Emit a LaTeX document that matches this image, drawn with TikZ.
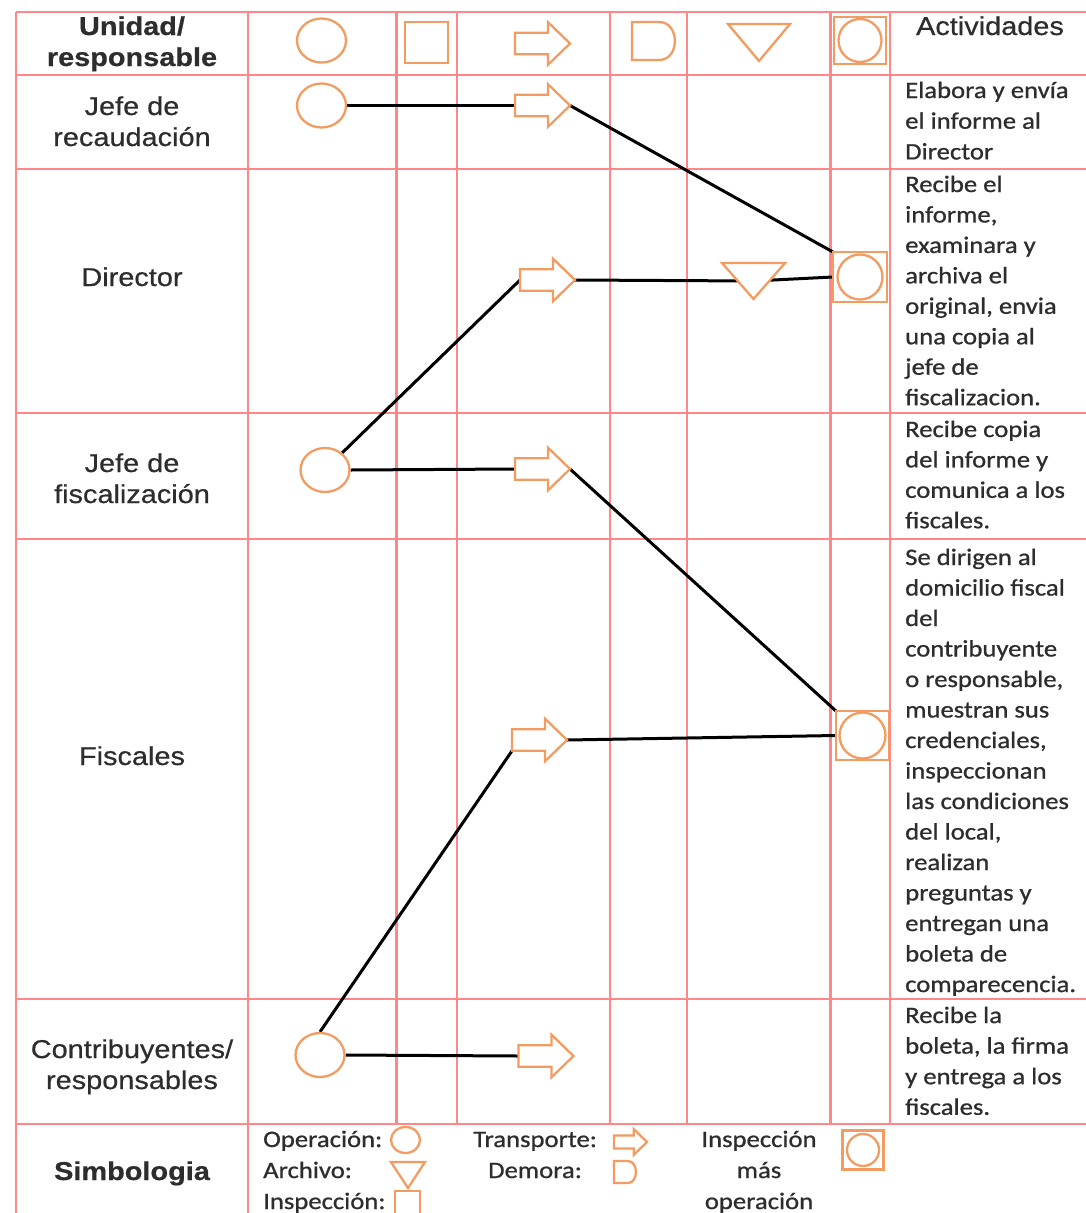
\documentclass[tikz,border=0pt]{standalone}
\usepackage{fontspec}
\usetikzlibrary{shapes.geometric,calc}
\newfontfamily\lblfont{Liberation Sans}[FakeStretch=1.12, FakeBold=0.5]
\newfontfamily\txtfont{Carlito}[FakeStretch=1.13, FakeBold=0.8]
\definecolor{gridred}{RGB}{255,135,135}
\definecolor{symorange}{RGB}{242,156,98}
\definecolor{inkgray}{RGB}{45,45,45}
\pgfdeclarelayer{rules}
\pgfdeclarelayer{links}
\pgfsetlayers{rules,links,main}

\tikzset{
  tablerule/.style={gridred, line width=2.8pt},
  sym/.style={symorange, line width=2.3pt, fill=white},
  holder/.style={rectangle, inner sep=0pt, outer sep=0pt, draw=none},
  link/.style={black, line width=3pt},
  lbl/.style={font=\lblfont\fontsize{25.8}{31}\selectfont, text=inkgray, inner sep=0pt, anchor=base},
  lblb/.style={lbl, font=\lblfont\bfseries\fontsize{25.8}{31}\selectfont},
  act/.style={font=\txtfont\fontsize{23.6}{30.5}\selectfont, text=inkgray, inner sep=0pt, anchor=base west},
  actc/.style={act, anchor=base},
}

% block arrow (transport): name, centre, scale
\newcommand\blockarrow[3]{%
  \node[holder, minimum width=55*#3, minimum height=42.6*#3] (#1) at (#2) {};
  \draw[sym] (#1.west) ++(0,-10.8*#3) -- ++(33*#3,0) -- ++(0,-10.5*#3) -- (#1.east)
    -- ++(-22*#3,21.3*#3) -- ++(0,-10.5*#3) -- ++(-33*#3,0) -- cycle;
  \path (#1.west) ++(0,10.8*#3) coordinate (#1-bl);
}
% delay symbol: name, centre, width, height
\newcommand\delaysym[4]{%
  \node[holder, minimum width=#3, minimum height=#4] (#1) at (#2) {};
  \draw[sym] (#1.north west) -- ++(0.63*#3,0)
    .. controls +(0.49*#3,0) and +(0.49*#3,0) .. ($(#1.south west)+(0.63*#3,0)$)
    -- (#1.south west) -- cycle;
}
% storage triangle: name, centre, width, height
\newcommand\filesym[4]{%
  \node[holder, minimum width=#3, minimum height=#4] (#1) at (#2) {};
  \draw[sym] (#1.north west) -- (#1.north east) -- (#1.south) -- cycle;
}
% inspection plus operation: name, centre, width, height, radius
\newcommand\inspop[5]{%
  \node[holder, sym, draw, minimum width=#3, minimum height=#4] (#1) at (#2) {};
  \draw[sym, fill=none] (#1.center) circle[radius=#5];
}
% operation circle: name, centre, width, height
\newcommand\opsym[4]{%
  \node[sym, draw, ellipse, inner sep=0pt, minimum width=#3, minimum height=#4] (#1) at (#2) {};
}
% inspection square: name, centre, width, height
\newcommand\inspsym[4]{%
  \node[sym, draw, rectangle, inner sep=0pt, minimum width=#3, minimum height=#4] (#1) at (#2) {};
}
% activity cell: id, first baseline, line step, lines
\newcommand\actcell[4]{%
  \foreach \actline [count=\rowk from 0] in {#4}
    \node[act] (act#1-\rowk) at (905,#2+#3*\rowk) {\actline};
}

\begin{document}
\begin{tikzpicture}[x=1pt,y=-1pt]
\useasboundingbox (0,0) rectangle (1086,1213);

% table rules
\begin{pgfonlayer}{rules}
  \fill[white] (0,0) rectangle (1086,1213);
  \foreach \yy in {12,75,169,413,539,999,1124}
    \draw[tablerule] (16,\yy) -- (1086,\yy);
  \foreach \xx in {396.5,457,610,687,830.5,890}
    \draw[tablerule] (\xx,12) -- (\xx,1124);
  \draw[tablerule] (16,12) -- (16,1213);
  \draw[tablerule] (248,12) -- (248,1213);
\end{pgfonlayer}

\clip (0,0) rectangle (1086,1213);

% header row
\node[lblb] (hUnit) at (132,35) {Unidad/};
\node[lblb] (hResp) at (132,66) {responsable};
\node[lbl] (hAct) at (990,35) {Actividades};
\opsym{c0}{321.5,40.5}{49}{44}
\inspsym{q0}{426.5,42.5}{43}{41}
\blockarrow{a0}{542.5,43.5}{1}
\delaysym{d0}{653.5,41}{43}{38}
\filesym{t0}{759,42.5}{62}{37}
\inspop{s0}{860,40.5}{52}{47}{21.5}

% unit labels
\node[lbl] (u1a) at (132,115) {Jefe de};
\node[lbl] (u1b) at (132,146) {recaudación};
\node[lbl] (u2) at (132,286) {Director};
\node[lbl] (u3a) at (132,472) {Jefe de};
\node[lbl] (u3b) at (132,503) {fiscalización};
\node[lbl] (u4) at (132,765) {Fiscales};
\node[lbl] (u5a) at (132,1058) {Contribuyentes/};
\node[lbl] (u5b) at (132,1089) {responsables};
\node[lblb] (uSym) at (132,1180) {Simbologia};

% flow symbols
\opsym{c1}{321.5,105.5}{49}{44}
\blockarrow{a1}{542.5,105.5}{1}
\blockarrow{a2}{547.5,280}{1}
\filesym{t2}{753.5,281}{63}{36}
\inspop{s1}{860,277}{54}{50}{22.5}
\opsym{c3}{325,470}{49}{44}
\blockarrow{a3}{542.5,469}{1}
\blockarrow{a4}{539.5,740}{1}
\inspop{s2}{862.5,735.5}{53}{49}{23}
\opsym{c5}{320,1055}{49}{44}
\blockarrow{a5}{546,1056}{1}

% connectors
\begin{pgfonlayer}{links}
  \draw[link] (c1.east) -- (a1.west);
  \draw[link] (a1.east) -- (s1.north west);
  \draw[link] (c3.45) -- (a2.west);
  \draw[link] (a2.east) -- (t2.center);
  \draw[link] (t2.center) -- (s1.west);
  \draw[link] (c3.east) -- (a3.west);
  \draw[link] (a3.east) -- (s2.north west);
  \draw[link] (a4.east) -- (s2.west);
  \draw[link] (c5.north) -- (a4-bl);
  \draw[link] (c5.east) -- (a5.west);
\end{pgfonlayer}

% activities
\actcell{1}{98}{30.7}{Elabora y envía, el informe al, Director}
\actcell{2}{192}{30.45}{Recibe el, {informe,}, examinara y, archiva el, {original, envia}, una copia al, jefe de, fiscalizacion.}
\actcell{3}{437}{30.4}{Recibe copia, del informe y, comunica a los, fiscales.}
\actcell{4}{565}{30.5}{Se dirigen al, domicilio fiscal, del, contribuyente, {o responsable,}, muestran sus, {credenciales,}, inspeccionan, las condiciones, {del local,}, realizan, preguntas y, entregan una, boleta de, comparecencia.}
\actcell{5}{1023}{30.6}{Recibe la, {boleta, la firma}, y entrega a los, fiscales.}

% legend
\node[act] (gOp) at (263,1147) {Operación:};
\node[act] (gArch) at (263,1178) {Archivo:};
\node[act] (gInsp) at (263,1209) {Inspección:};
\node[act] (gTrans) at (473,1147) {Transporte:};
\node[act] (gDem) at (488,1178) {Demora:};
\node[actc] (gIO1) at (759,1147) {Inspección};
\node[actc] (gIO2) at (759,1178) {más};
\node[actc] (gIO3) at (759,1209) {operación};
\opsym{lc}{405.5,1140}{29}{26}
\filesym{lt}{408,1175}{34}{26}
\inspsym{lq}{407.5,1203.5}{25}{25}
\blockarrow{la}{630.5,1142}{0.6}
\delaysym{ld}{625,1172}{22}{22}
\inspop{ls}{863,1150}{41}{39}{16}
\end{tikzpicture}
\end{document}
